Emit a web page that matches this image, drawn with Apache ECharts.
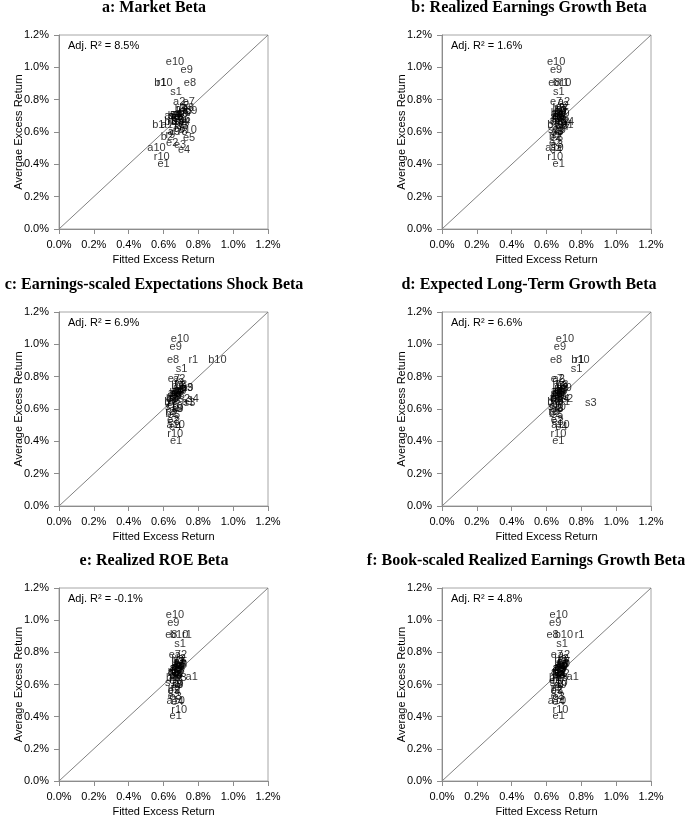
<!DOCTYPE html>
<html><head><meta charset="utf-8">
<script src="https://cdn.jsdelivr.net/npm/echarts@6/dist/echarts.min.js"></script>
<style>html,body{margin:0;padding:0;background:#fff}#c{width:685px;height:818px}</style>
</head><body><div id="c"></div>
<script>
// Portfolio labels (order shared by every array below)
const labels = [
  's1','s2','s3','s4','s5','s6','s7','s8','s9','s10',
  'b1','b2','b3','b4','b5','b6','b7','b8','b9','b10',
  'e1','e2','e3','e4','e5','e6','e7','e8','e9','e10',
  'r1','r2','r3','r4','r5','r6','r7','r8','r9','r10',
  'a1','a2','a3','a4','a5','a6','a7','a8','a9','a10'
];
// Average excess return (%), same in every panel
const avgReturn = [
  0.85,0.665,0.64,0.66,0.70,0.68,0.72,0.69,0.71,0.61,
  0.643,0.567,0.66,0.70,0.67,0.72,0.74,0.75,0.73,0.905,
  0.402,0.53,0.52,0.49,0.56,0.62,0.785,0.905,0.985,1.035,
  0.905,0.76,0.74,0.71,0.69,0.66,0.63,0.60,0.58,0.443,
  0.645,0.785,0.73,0.71,0.70,0.68,0.67,0.65,0.60,0.50
];
// Fitted excess return (%) per panel
const fittedA = [
  0.672,0.70,0.71,0.72,0.66,0.69,0.70,0.68,0.71,0.74,
  0.57,0.62,0.64,0.66,0.68,0.72,0.70,0.74,0.76,0.60,
  0.60,0.65,0.695,0.718,0.747,0.69,0.745,0.752,0.733,0.666,
  0.59,0.72,0.70,0.68,0.67,0.65,0.69,0.71,0.64,0.59,
  0.62,0.69,0.73,0.67,0.64,0.72,0.68,0.70,0.66,0.56
];
const fittedB = [
  0.67,0.70,0.69,0.725,0.67,0.66,0.69,0.68,0.70,0.66,
  0.64,0.65,0.66,0.67,0.68,0.66,0.69,0.67,0.68,0.69,
  0.67,0.65,0.66,0.655,0.66,0.67,0.655,0.645,0.655,0.655,
  0.70,0.70,0.68,0.67,0.66,0.69,0.71,0.67,0.66,0.65,
  0.72,0.70,0.68,0.66,0.67,0.69,0.65,0.68,0.66,0.645
];
const fittedC = [
  0.704,0.72,0.75,0.77,0.68,0.69,0.70,0.67,0.70,0.66,
  0.64,0.647,0.65,0.67,0.66,0.69,0.68,0.70,0.737,0.909,
  0.672,0.655,0.66,0.667,0.66,0.65,0.66,0.655,0.67,0.695,
  0.771,0.69,0.70,0.68,0.67,0.66,0.65,0.68,0.64,0.667,
  0.74,0.69,0.735,0.68,0.66,0.67,0.65,0.66,0.68,0.67
];
const fittedD = [
  0.773,0.72,0.855,0.70,0.68,0.67,0.69,0.66,0.69,0.66,
  0.64,0.65,0.66,0.67,0.66,0.68,0.67,0.69,0.71,0.795,
  0.668,0.66,0.665,0.686,0.66,0.65,0.66,0.655,0.677,0.706,
  0.79,0.68,0.69,0.67,0.66,0.65,0.66,0.67,0.64,0.668,
  0.70,0.67,0.69,0.66,0.67,0.68,0.65,0.66,0.66,0.68
];
const fittedE = [
  0.695,0.69,0.70,0.68,0.67,0.66,0.70,0.68,0.69,0.66,
  0.65,0.66,0.67,0.68,0.66,0.70,0.69,0.68,0.70,0.69,
  0.67,0.66,0.67,0.68,0.66,0.67,0.665,0.645,0.656,0.666,
  0.735,0.70,0.69,0.68,0.67,0.68,0.66,0.68,0.67,0.69,
  0.762,0.70,0.69,0.68,0.67,0.66,0.69,0.67,0.68,0.67
];
const fittedF = [
  0.69,0.70,0.69,0.68,0.67,0.66,0.70,0.68,0.69,0.67,
  0.65,0.66,0.67,0.68,0.67,0.69,0.70,0.68,0.70,0.70,
  0.67,0.66,0.67,0.67,0.66,0.65,0.66,0.635,0.65,0.67,
  0.79,0.70,0.69,0.68,0.67,0.68,0.66,0.67,0.66,0.68,
  0.75,0.70,0.69,0.68,0.67,0.66,0.68,0.67,0.68,0.66
];
const panelTitles = [
  'a: Market Beta',
  'b: Realized Earnings Growth Beta',
  'c: Earnings-scaled Expectations Shock Beta',
  'd: Expected Long-Term Growth Beta',
  'e: Realized ROE Beta',
  'f: Book-scaled Realized Earnings Growth Beta'
];
const adjR2 = ['8.5%','1.6%','6.9%','6.6%','-0.1%','4.8%'];
const yNames = ['Avergae Excess Return','Average Excess Return','Average Excess Return',
                'Average Excess Return','Average Excess Return','Average Excess Return'];
const xName = 'Fitted Excess Return';
const diagonal = [[0,0],[1.2,1.2]];
const fitted = [fittedA, fittedB, fittedC, fittedD, fittedE, fittedF];

const chart = echarts.init(document.getElementById('c'));
const lefts = [59, 442];
const tops = [35, 312, 588];
const titleX = [154, 529, 154, 529, 154, 526];
const W = 209, H = 194;
const sans = '"Liberation Sans",Arial,sans-serif';
const serif = '"Liberation Serif","Times New Roman",serif';
const axisGray = '#8c8c8c';

const grid = [], xAxis = [], yAxis = [], series = [], graphic = [];
for (let i = 0; i < 6; i++) {
  const col = i % 2, row = Math.floor(i / 2);
  const L = lefts[col], T = tops[row];
  grid.push({left: L, top: T, width: W, height: H, show: true, borderColor: '#a6a6a6', borderWidth: 1, backgroundColor: 'transparent'});
  const common = {
    gridIndex: i, type: 'value', min: 0, max: 1.2, interval: 0.2,
    axisLine: {show: true, lineStyle: {color: axisGray, width: 1}},
    axisTick: {show: true, inside: false, length: 5, lineStyle: {color: axisGray}},
    splitLine: {show: false},
    axisLabel: {formatter: v => v.toFixed(1) + '%', color: '#000', fontSize: 11, fontFamily: sans, margin: 10},
    nameLocation: 'middle',
    nameMoveOverlap: false,
    nameTextStyle: {color: '#000', fontSize: 11, fontFamily: sans}
  };
  xAxis.push(Object.assign({}, common, {name: xName, nameGap: 25}));
  yAxis.push(Object.assign({}, common, {name: yNames[i], nameGap: 35}));
  series.push({
    type: 'line', xAxisIndex: i, yAxisIndex: i, data: diagonal, symbol: 'none',
    lineStyle: {color: '#808080', width: 1}, silent: true, z: 1
  });
  series.push({
    type: 'scatter', xAxisIndex: i, yAxisIndex: i, symbolSize: 2,
    itemStyle: {color: 'rgba(0,0,0,0)'},
    data: labels.map((n, k) => [fitted[i][k], avgReturn[k], n]),
    label: {show: true, position: 'inside', formatter: p => p.data[2], color: '#000', fontSize: 11, fontFamily: sans},
    labelLayout: {hideOverlap: false},
    z: 2
  });
  graphic.push({
    type: 'text', left: L + 9, top: T + 5,
    style: {text: 'Adj. R\u00b2 = ' + adjR2[i], fill: '#000', font: '11px ' + sans}
  });
  graphic.push({
    type: 'text', x: titleX[i], y: T - 27,
    style: {text: panelTitles[i], fill: '#000', font: 'bold 16px ' + serif, textAlign: 'center', textVerticalAlign: 'middle'}
  });
}

chart.setOption({
  animation: false,
  backgroundColor: '#fff',
  grid, xAxis, yAxis, series, graphic
});
</script></body></html>
